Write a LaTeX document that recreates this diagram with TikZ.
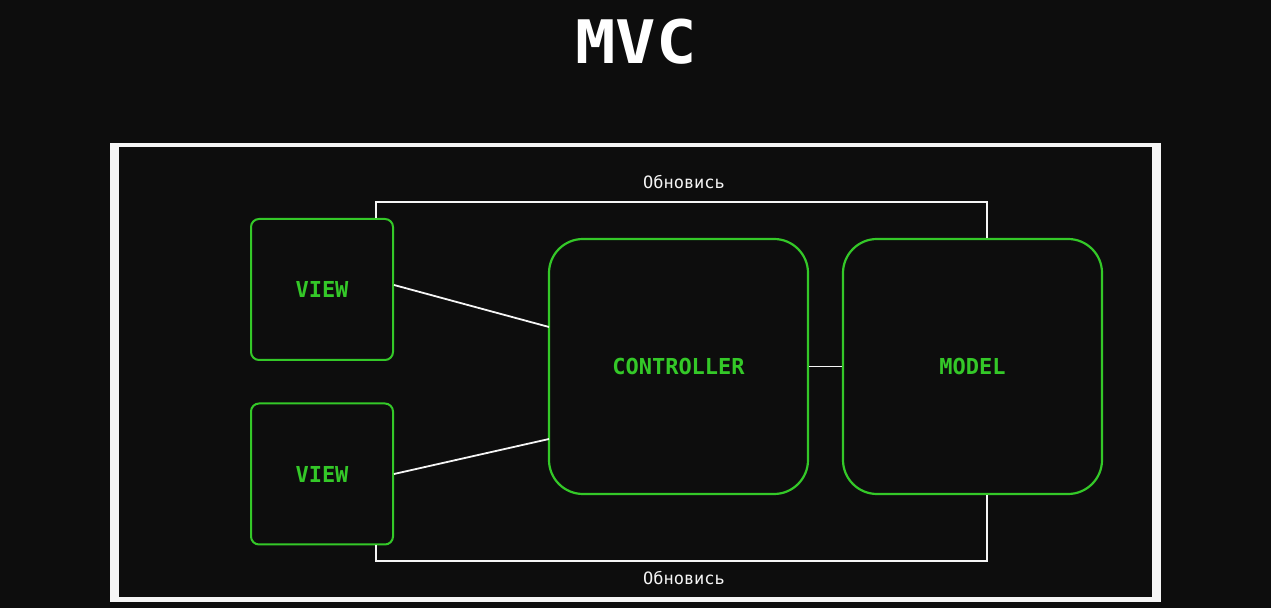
\documentclass[tikz,border=0pt]{standalone}
\usepackage{fontspec}
\setmonofont{DejaVu Sans Mono}
\definecolor{bgdark}{RGB}{13,13,13}
\definecolor{termgreen}{RGB}{52,200,40}
\definecolor{framewhite}{RGB}{245,245,245}
\begin{document}
\begin{tikzpicture}[x=0.5pt,y=-0.5pt,
  viewbox/.style={draw=termgreen, line width=1pt, rounded corners=4pt, fill=bgdark,
    minimum width=71pt, minimum height=70.5pt, inner sep=0pt,
    text=termgreen, font=\ttfamily\bfseries\fontsize{11}{12}\selectfont},
  bigbox/.style={draw=termgreen, line width=1.1pt, rounded corners=17pt, fill=bgdark,
    minimum width=129.5pt, minimum height=127.5pt, inner sep=0pt,
    text=termgreen, font=\ttfamily\bfseries\fontsize{11}{12}\selectfont},
  wire/.style={draw=framewhite, line width=0.9pt},
  lbl/.style={text=framewhite, font=\ttfamily\fontsize{8.5}{10}\selectfont, inner sep=0pt},
  ttl/.style={text=white, font=\ttfamily\bfseries\fontsize{30}{34}\selectfont, inner sep=0pt, xscale=1.12}
]
% background and bounding box
\fill[white] (0,0) rectangle (1284,613);
\fill[bgdark] (0,0) rectangle (1271,608);
\useasboundingbox (0,0) rectangle (1284,613);
% white frame
\fill[framewhite] (110,143) rectangle (1160.5,602.5);
\fill[bgdark] (119,147.5) rectangle (1151.5,597.5);
% title
\node[ttl] (title) at (636,42) {MVC};
% connectors' corner points
\coordinate (tl) at (376,202);
\coordinate (tr) at (987,202);
\coordinate (bl) at (376,561);
\coordinate (br) at (987,561);
\coordinate (c1) at (549,327);
\coordinate (c2) at (549,439);
\node[viewbox] (v1) at (322,289.5) {VIEW};
\node[viewbox] (v2) at (322,474) {VIEW};
\node[bigbox] (ctl) at (678.5,366.5) {CONTROLLER};
\node[bigbox] (mdl) at (972.5,366.5) {MODEL};
\draw[wire] (tl |- v1.north) -- (tl) -- (tr) -- (tr |- mdl.north);
\draw[wire] (bl |- v2.south) -- (bl) -- (br) -- (br |- mdl.south);
\draw[wire] (v1.east |- 0,285) -- (c1);
\draw[wire] (v2.east) -- (c2);
\draw[wire] (ctl.east) -- (mdl.west);
\node[lbl] (lt) at (684,182) {Обновись};
\node[lbl] (lb) at (684,578) {Обновись};
\end{tikzpicture}
\end{document}
